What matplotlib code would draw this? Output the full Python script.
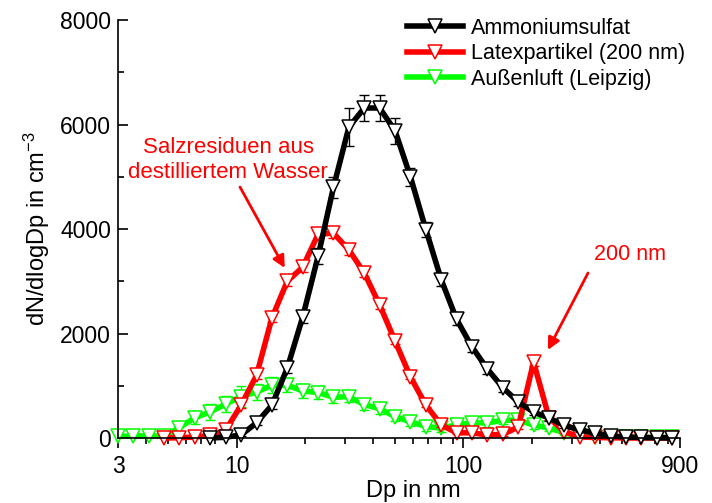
import matplotlib

matplotlib.use("Agg")
import matplotlib.pyplot as plt  # noqa: E402
from matplotlib.ticker import FixedLocator, NullFormatter, MultipleLocator  # noqa: E402

plt.rcParams["font.family"] = ["Liberation Sans", "DejaVu Sans"]
plt.rcParams["mathtext.fontset"] = "custom"
plt.rcParams["mathtext.rm"] = "Liberation Sans"
plt.rcParams["mathtext.it"] = "Liberation Sans"

# particle diameter bins (nm)
dp = [3.00, 3.51, 4.10, 4.79, 5.60, 6.55, 7.66, 8.95, 10.47, 12.24, 14.31, 16.73,
      19.56, 22.87, 26.73, 31.25, 36.54, 42.72, 49.94, 58.38, 68.26, 79.80, 93.29,
      109.1, 127.5, 149.1, 174.3, 203.7, 238.2, 278.5, 325.6, 380.6, 445.0, 520.2,
      608.2, 711.1, 831.3]

ammon = [0, 0, 0, 0, 0, 0, 0, 15, 60, 290, 630, 1340, 2316, 3480, 4800, 5950, 6316,
         6316, 5880, 5000, 3990, 3030, 2270, 1742, 1320, 965, 689, 498, 383, 240, 153,
         96, 38, 20, 10, 5, 0]
ammon_err = [0, 0, 0, 0, 0, 0, 0, 20, 30, 50, 70, 90, 120, 150, 200, 360, 250, 250,
             250, 170, 150, 130, 110, 100, 90, 80, 70, 60, 50, 40, 40, 30, 30, 20, 20, 20, 20]

latex = [0, 0, 0, 0, 5, 20, 50, 150, 630, 1200, 2300, 3000, 3270, 3900, 3920, 3600,
         3160, 2546, 1857, 1170, 632, 249, 100, 100, 57, 70, 210, 1455, 390, 120, 20,
         10, 5, 0, 0, 0, 0]
latex_err = [0, 0, 0, 0, 20, 30, 40, 50, 60, 70, 80, 90, 90, 90, 90, 90, 80, 70, 60,
             50, 40, 30, 30, 30, 30, 30, 40, 80, 40, 30, 20, 20, 20, 20, 20, 20, 20]

aussen = [30, 40, 40, 35, 200, 390, 500, 650, 790, 880, 1010, 1010, 900, 870, 780,
          790, 640, 560, 410, 310, 220, 190, 250, 290, 290, 340, 340, 250, 190, 100,
          30, 25, 20, 15, 15, 15, 15]
aussen_err = [30, 60, 60, 50, 100, 120, 150, 150, 200, 150, 150, 130, 130, 120, 110,
              110, 100, 100, 90, 80, 80, 80, 80, 80, 80, 80, 80, 70, 60, 50, 40, 30,
              30, 30, 30, 30, 30]

series = [
    ("Außenluft (Leipzig)", aussen, aussen_err, "#00ff00", 0),
    ("Latexpartikel (200 nm)", latex, latex_err, "#ff0000", 3),
    ("Ammoniumsulfat", ammon, ammon_err, "#000000", 6),
]

fig = plt.figure(figsize=(7.12, 5.03), dpi=100)
ax = fig.add_axes([0.1657, 0.1292, 0.7893, 0.831])

handles = {}
for z, (name, vals, err, col, start) in enumerate(series):
    x = dp[start:]
    y = vals[start:]
    e = err[start:]
    ax.errorbar(x, y, yerr=e, fmt="none", ecolor=col, elinewidth=1, capsize=3.5,
                capthick=1, zorder=2 + 2 * z)
    (h,) = ax.plot(x, y, color=col, lw=4, marker="v", ms=10, mfc="white", mec=col,
                   mew=1.1, zorder=3 + 2 * z, label=name, clip_on=False)
    handles[name] = h

ax.set_xscale("log")
ax.set_xlim(3, 900)
ax.set_ylim(0, 8000)
ax.xaxis.set_major_locator(FixedLocator([3, 10, 100, 900]))
ax.xaxis.set_major_formatter(plt.FixedFormatter(["3", "10", "100", "900"]))
ax.xaxis.set_minor_locator(FixedLocator([4, 5, 6, 7, 8, 9, 20, 30, 40, 50, 60, 70, 80, 90,
                                         200, 300, 400, 500, 600, 700, 800]))
ax.xaxis.set_minor_formatter(NullFormatter())
ax.yaxis.set_major_locator(MultipleLocator(2000))
ax.yaxis.set_minor_locator(MultipleLocator(1000))

for s in ("top", "right"):
    ax.spines[s].set_visible(False)
for s in ("left", "bottom"):
    ax.spines[s].set_linewidth(1.2)
    ax.spines[s].set_zorder(20)
ax.tick_params(axis="x", which="major", direction="out", length=7, width=1.2,
               labelsize=16.5, pad=5)
ax.tick_params(axis="x", which="minor", direction="out", length=4, width=1.2)
ax.tick_params(axis="y", which="major", direction="in", length=7, width=1.2,
               labelsize=16.5, pad=5)
ax.tick_params(axis="y", which="minor", direction="in", length=4, width=1.2)

ax.set_xlabel("Dp in nm", fontsize=17, labelpad=2, x=0.525)
ax.set_ylabel(r"dN/dlogDp in cm$^{-3}$", fontsize=17, labelpad=6)

order = ["Ammoniumsulfat", "Latexpartikel (200 nm)", "Außenluft (Leipzig)"]
ax.legend([handles[n] for n in order], order, loc="upper left", frameon=False,
          fontsize=15.5, numpoints=1, handlelength=2.6, handletextpad=0.35,
          labelspacing=0.2, borderpad=0, borderaxespad=0,
          bbox_to_anchor=(407 / 712, 1 - 18 / 503), bbox_transform=fig.transFigure)

arrow = dict(arrowstyle="-|>", color="red", lw=2, mutation_scale=18, shrinkA=0, shrinkB=0)
ax.text(9.17, 5320, "Salzresiduen aus\ndestilliertem Wasser", color="red", fontsize=16,
        ha="center", va="center", linespacing=1.2)
ax.annotate("", xy=(16.3, 3254), xytext=(10.35, 4804), arrowprops=arrow)
ax.text(542, 3503, "200 nm", color="red", fontsize=15.5, ha="center", va="center")
ax.annotate("", xy=(235.5, 1684), xytext=(354, 3158), arrowprops=arrow)

fig.savefig("out.png", dpi=100)
